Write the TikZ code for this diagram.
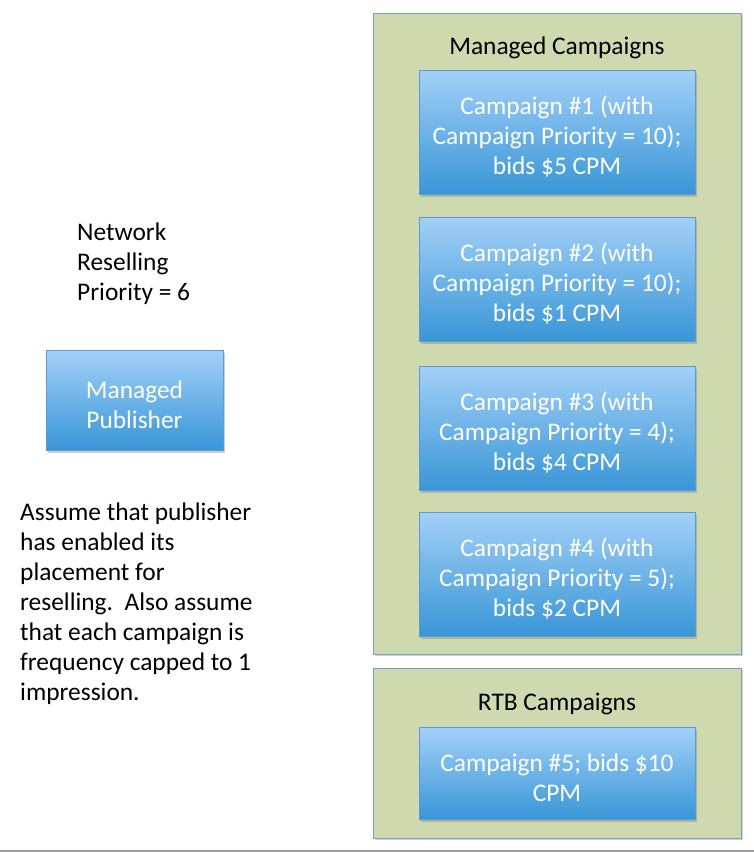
\documentclass[tikz,border=0pt]{standalone}
\usepackage{fontspec}
\setmainfont{Carlito}
\usetikzlibrary{shadows}
\definecolor{grn}{HTML}{CFD9AF}
\definecolor{grnedge}{HTML}{6FA0CF}
\definecolor{btop}{HTML}{A3D0F8}
\definecolor{bbot}{HTML}{3896D6}
\definecolor{bedge}{HTML}{5A9BD5}
\begin{document}
\begin{tikzpicture}[x=1pt,y=-1pt,
  panel/.style={draw=grnedge,fill=grn,line width=1pt,drop shadow={shadow xshift=1.5pt,shadow yshift=-1.5pt,opacity=0.35}},
  camp/.style={draw=bedge,line width=0.8pt,top color=btop,bottom color=bbot,
    minimum width=276pt,inner sep=0pt,
    drop shadow={shadow xshift=2pt,shadow yshift=-3pt,opacity=0.4}},
  camptext/.style={text=white,align=center,inner sep=0pt,font=\fontsize{25.4}{30}\selectfont},
  plain/.style={text=black,font=\fontsize{25.4}{30}\selectfont,inner sep=0pt}]
\useasboundingbox (0,0) rectangle (754,852);
\fill[white] (0,0) rectangle (754,852);
\fill[gray!70!black!60] (0,849.5) rectangle (754,852);
% panels
\path[panel] (373,13) rectangle (741,654);
\path[panel] (373,668) rectangle (741,838);
\node[plain] (mtitle) at (557,48) {Managed Campaigns};
\node[plain] (rtitle) at (557,704) {RTB Campaigns};
% campaigns
\node[camp,minimum height=124pt] (c1) at (557,132) {};
\node[camptext] (t1) at (557,137) {Campaign \#1 (with\\Campaign Priority = 10);\\bids \$5 CPM};
\node[camp,minimum height=124pt] (c2) at (557,279) {};
\node[camptext] (t2) at (557,284) {Campaign \#2 (with\\Campaign Priority = 10);\\bids \$1 CPM};
\node[camp,minimum height=124pt] (c3) at (557,428) {};
\node[camptext] (t3) at (557,433) {Campaign \#3 (with\\Campaign Priority = 4);\\bids \$4 CPM};
\node[camp,minimum height=124pt] (c4) at (557,574) {};
\node[camptext] (t4) at (557,579) {Campaign \#4 (with\\Campaign Priority = 5);\\bids \$2 CPM};
\node[camp,minimum height=92pt] (c5) at (557,773) {};
\node[camptext] (t5) at (557,778) {Campaign \#5; bids \$10\\CPM};
% publisher
\node[camp,minimum width=177pt,minimum height=100pt] (pub) at (134.5,400) {};
\node[camptext] (tp) at (134.5,405) {Managed\\Publisher};
% texts
\node[plain,align=left,anchor=north west] (nrp) at (77,223) {Network\\Reselling\\Priority = 6};
\node[plain,align=left,anchor=north west] (note) at (20,503) {Assume that publisher\\has enabled its\\placement for\\reselling.\ \ Also assume\\that each campaign is\\frequency capped to 1\\impression.};
\end{tikzpicture}
\end{document}
